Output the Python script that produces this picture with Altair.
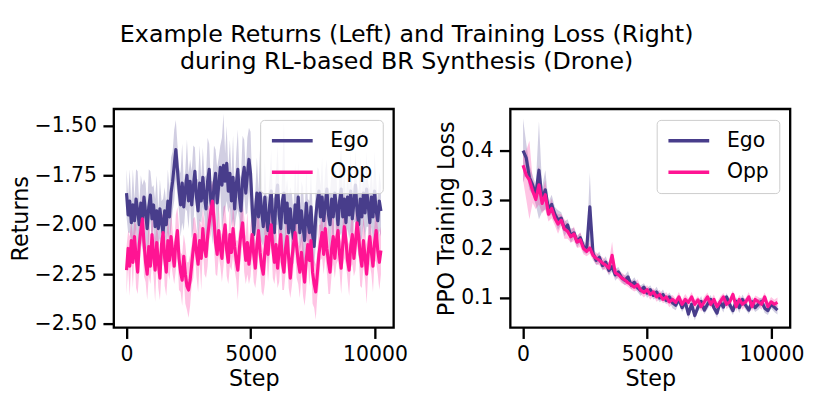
import altair as alt
import pandas as pd

# ---------------- data ----------------
series_names = ["Ego", "Opp"]
series_colors = ["#483D8B", "#FF1493"]

# Left panel: returns, every 64 steps (mean line and half-width of band)
ret_steps = [i * 64 for i in range(161)]
ego_ret_mean = [
    -1.84, -1.95, -1.88, -1.99, -1.90, -1.98, -1.87, -1.93, -2.00, -1.89,
    -1.97, -1.86, -1.94, -2.02, -1.91, -1.85, -1.97, -1.90, -2.01, -1.93,
    -2.02, -1.92, -1.99, -2.04, -1.93, -2.00, -1.88, -1.96, -1.84, -1.78,
    -1.70, -1.62, -1.72, -1.82, -1.90, -1.79, -1.91, -1.82, -1.75, -1.88,
    -1.78, -1.90, -1.81, -1.73, -1.86, -1.93, -1.79, -1.88, -1.76, -1.86,
    -1.92, -1.78, -1.72, -1.88, -1.94, -1.80, -1.74, -1.89, -1.80, -1.71,
    -1.80, -1.70, -1.78, -1.69, -1.83, -1.74, -1.88, -1.76, -1.92, -1.80,
    -1.72, -1.86, -1.93, -1.77, -1.71, -1.84, -1.75, -1.67, -1.74, -1.90,
    -2.05, -1.94, -1.84, -1.96, -1.84, -1.93, -2.01, -1.86, -1.97, -2.03,
    -1.90, -1.83, -1.98, -2.04, -1.87, -1.80, -1.95, -2.02, -1.88, -1.84,
    -1.99, -1.89, -2.04, -1.92, -2.01, -2.07, -1.90, -1.99, -1.86, -2.04,
    -1.93, -2.01, -2.08, -1.89, -1.98, -2.04, -1.91, -2.05, -2.11, -1.96,
    -1.88, -1.83, -1.96, -1.86, -1.98, -1.90, -1.82, -1.95, -2.00, -1.87,
    -1.96, -1.84, -1.91, -2.00, -1.88, -1.82, -1.96, -1.87, -1.99, -1.86,
    -1.95, -1.83, -1.97, -1.89, -1.80, -1.93, -2.00, -1.87, -1.96, -1.84,
    -1.94, -1.82, -1.90, -1.99, -1.86, -1.96, -1.83, -1.93, -1.98, -1.88,
    -1.93,
]
ego_ret_half = [
    0.12, 0.09, 0.16, 0.10, 0.18, 0.11, 0.15, 0.20, 0.10, 0.14,
    0.17, 0.09, 0.15, 0.11, 0.19, 0.12, 0.16, 0.10, 0.14, 0.18,
    0.09, 0.15, 0.11, 0.17, 0.12, 0.10, 0.16, 0.13, 0.18, 0.15,
    0.18, 0.15, 0.13, 0.11, 0.16, 0.20, 0.12, 0.10, 0.18, 0.14,
    0.11, 0.17, 0.21, 0.12, 0.09, 0.16, 0.19, 0.11, 0.15, 0.10,
    0.17, 0.22, 0.13, 0.10, 0.16, 0.20, 0.12, 0.18, 0.14, 0.11,
    0.24, 0.26, 0.14, 0.19, 0.11, 0.17, 0.13, 0.21, 0.10, 0.16,
    0.20, 0.12, 0.17, 0.22, 0.14, 0.11, 0.19, 0.16, 0.21, 0.12,
    0.14, 0.11, 0.18, 0.13, 0.23, 0.16, 0.10, 0.19, 0.12, 0.17,
    0.14, 0.21, 0.11, 0.18, 0.13, 0.20, 0.16, 0.10, 0.17, 0.36,
    0.16, 0.12, 0.19, 0.11, 0.17, 0.13, 0.21, 0.14, 0.18, 0.10,
    0.15, 0.20, 0.12, 0.17, 0.11, 0.16, 0.19, 0.13, 0.10, 0.15,
    0.17, 0.11, 0.16, 0.20, 0.12, 0.18, 0.15, 0.10, 0.17, 0.13,
    0.19, 0.12, 0.16, 0.10, 0.18, 0.22, 0.13, 0.17, 0.11, 0.16,
    0.12, 0.20, 0.15, 0.10, 0.18, 0.13, 0.17, 0.21, 0.11, 0.16,
    0.13, 0.19, 0.11, 0.17, 0.15, 0.12, 0.20, 0.16, 0.10, 0.15,
    0.13,
]
opp_ret_mean = [
    -2.23, -2.12, -2.21, -2.08, -2.19, -2.06, -2.16, -2.24, -2.10, -2.03,
    -1.97, -2.09, -2.19, -2.25, -2.11, -2.21, -2.05, -2.15, -2.23, -2.09,
    -2.19, -2.27, -2.10, -2.04, -2.17, -2.24, -2.08, -2.18, -2.06, -2.14,
    -2.21, -2.09, -2.03, -2.17, -2.24, -2.28, -2.16, -2.25, -2.31, -2.33,
    -2.28, -2.20, -2.12, -2.05, -2.14, -2.20, -2.08, -2.17, -2.02, -2.12,
    -2.16, -2.06, -1.99, -1.93, -1.88, -1.97, -2.09, -2.15, -2.03, -2.12,
    -2.17, -2.06, -2.00, -2.13, -2.19, -2.05, -2.14, -2.02, -2.11, -2.18,
    -2.23, -2.12, -2.04, -1.99, -2.10, -2.18, -2.09, -2.20, -2.13, -2.05,
    -2.15, -2.22, -2.10, -2.03, -2.14, -2.21, -2.25, -2.14, -2.06, -2.15,
    -2.05, -2.00, -2.12, -2.19, -2.10, -2.22, -2.13, -2.05, -2.19, -2.24,
    -2.12, -2.06, -2.17, -2.27, -2.17, -2.10, -2.04, -2.11, -2.19, -2.24,
    -2.14, -2.22, -2.29, -2.18, -2.10, -2.18, -2.08, -2.24, -2.30, -2.34,
    -2.25, -2.15, -2.09, -2.04, -2.15, -2.02, -2.12, -2.19, -2.24, -2.12,
    -2.06, -2.17, -2.08, -2.03, -2.15, -2.22, -2.10, -2.01, -2.08, -2.18,
    -2.23, -2.11, -2.05, -2.17, -2.09, -1.99, -2.06, -2.15, -2.21, -2.08,
    -2.16, -2.25, -2.14, -2.06, -2.14, -2.21, -2.09, -2.03, -2.13, -2.19,
    -2.13,
]
opp_ret_half = [
    0.12, 0.09, 0.15, 0.10, 0.13, 0.08, 0.16, 0.11, 0.14, 0.09,
    0.12, 0.17, 0.10, 0.13, 0.15, 0.09, 0.14, 0.11, 0.16, 0.10,
    0.13, 0.11, 0.15, 0.09, 0.14, 0.12, 0.16, 0.10, 0.13, 0.11,
    0.09, 0.14, 0.12, 0.16, 0.10, 0.13, 0.11, 0.15, 0.12, 0.14,
    0.13, 0.10, 0.15, 0.09, 0.12, 0.14, 0.11, 0.16, 0.10, 0.13,
    0.11, 0.15, 0.09, 0.12, 0.10, 0.14, 0.16, 0.11, 0.13, 0.09,
    0.12, 0.15, 0.10, 0.13, 0.11, 0.16, 0.09, 0.14, 0.12, 0.10,
    0.15, 0.11, 0.13, 0.09, 0.14, 0.12, 0.16, 0.10, 0.13, 0.11,
    0.14, 0.10, 0.15, 0.12, 0.09, 0.13, 0.11, 0.16, 0.10, 0.14,
    0.12, 0.09, 0.15, 0.11, 0.13, 0.10, 0.16, 0.12, 0.14, 0.09,
    0.13, 0.11, 0.15, 0.10, 0.14, 0.12, 0.09, 0.16, 0.11, 0.13,
    0.10, 0.14, 0.12, 0.15, 0.09, 0.13, 0.11, 0.16, 0.12, 0.14,
    0.11, 0.15, 0.09, 0.13, 0.10, 0.14, 0.12, 0.16, 0.11, 0.13,
    0.14, 0.10, 0.12, 0.15, 0.09, 0.13, 0.11, 0.16, 0.12, 0.10,
    0.13, 0.11, 0.15, 0.09, 0.14, 0.12, 0.10, 0.16, 0.11, 0.13,
    0.12, 0.15, 0.10, 0.14, 0.11, 0.13, 0.09, 0.16, 0.12, 0.14,
    0.12,
]

# Right panel: PPO training loss, every 128 steps
loss_steps = [i * 128 for i in range(81)]
ego_loss_mean = [
    0.400, 0.385, 0.345, 0.330, 0.310, 0.360, 0.300, 0.320, 0.280, 0.290,
    0.270, 0.258, 0.262, 0.240, 0.248, 0.226, 0.232, 0.214, 0.222, 0.204,
    0.198, 0.285, 0.190, 0.176, 0.182, 0.165, 0.172, 0.155, 0.163, 0.146,
    0.152, 0.140, 0.135, 0.142, 0.125, 0.131, 0.120, 0.114, 0.121, 0.109,
    0.116, 0.104, 0.111, 0.099, 0.106, 0.094, 0.101, 0.089, 0.084, 0.096,
    0.079, 0.091, 0.066, 0.086, 0.063, 0.080, 0.092, 0.074, 0.086, 0.096,
    0.079, 0.068, 0.091, 0.080, 0.101, 0.085, 0.073, 0.092, 0.079, 0.096,
    0.084, 0.074, 0.091, 0.079, 0.086, 0.092, 0.078, 0.073, 0.086, 0.080, 0.074,
]
ego_loss_half = [
    0.065, 0.030, 0.025, 0.020, 0.020, 0.100, 0.025, 0.040, 0.015, 0.020,
    0.015, 0.020, 0.012, 0.015, 0.012, 0.015, 0.010, 0.012, 0.010, 0.012,
    0.010, 0.070, 0.012, 0.010, 0.012, 0.010, 0.012, 0.010, 0.010, 0.012,
    0.010, 0.008, 0.010, 0.012, 0.008, 0.010, 0.009, 0.011, 0.008, 0.010,
    0.009, 0.008, 0.011, 0.009, 0.010, 0.008, 0.009, 0.011, 0.010, 0.008,
    0.009, 0.010, 0.011, 0.008, 0.010, 0.009, 0.011, 0.008, 0.010, 0.009,
    0.008, 0.010, 0.009, 0.011, 0.008, 0.010, 0.009, 0.008, 0.011, 0.010,
    0.009, 0.008, 0.010, 0.009, 0.011, 0.008, 0.010, 0.009, 0.008, 0.010, 0.009,
]
opp_loss_mean = [
    0.370, 0.350, 0.340, 0.318, 0.300, 0.330, 0.292, 0.310, 0.270, 0.282,
    0.262, 0.250, 0.258, 0.240, 0.235, 0.224, 0.230, 0.213, 0.218, 0.200,
    0.194, 0.201, 0.186, 0.180, 0.176, 0.170, 0.166, 0.160, 0.186, 0.150,
    0.146, 0.140, 0.136, 0.130, 0.126, 0.121, 0.126, 0.115, 0.110, 0.116,
    0.106, 0.111, 0.101, 0.106, 0.096, 0.101, 0.091, 0.096, 0.090, 0.101,
    0.086, 0.096, 0.090, 0.101, 0.086, 0.095, 0.081, 0.091, 0.101, 0.086,
    0.096, 0.081, 0.091, 0.101, 0.086, 0.091, 0.106, 0.081, 0.096, 0.086,
    0.091, 0.101, 0.081, 0.096, 0.091, 0.086, 0.101, 0.081, 0.091, 0.086, 0.090,
]
opp_loss_half = [
    0.030, 0.050, 0.080, 0.025, 0.020, 0.040, 0.020, 0.030, 0.015, 0.020,
    0.015, 0.020, 0.012, 0.020, 0.015, 0.012, 0.015, 0.012, 0.015, 0.012,
    0.010, 0.012, 0.010, 0.012, 0.010, 0.012, 0.010, 0.012, 0.028, 0.010,
    0.009, 0.011, 0.010, 0.008, 0.010, 0.009, 0.011, 0.008, 0.010, 0.009,
    0.011, 0.008, 0.010, 0.009, 0.008, 0.010, 0.011, 0.009, 0.008, 0.010,
    0.009, 0.011, 0.008, 0.010, 0.009, 0.008, 0.010, 0.011, 0.009, 0.008,
    0.010, 0.009, 0.011, 0.008, 0.010, 0.009, 0.008, 0.010, 0.009, 0.011,
    0.008, 0.010, 0.009, 0.008, 0.010, 0.011, 0.009, 0.008, 0.010, 0.009, 0.010,
]

x_ticks = [0, 5000, 10000]
ret_ticks = [-2.5, -2.25, -2.0, -1.75, -1.5]
loss_ticks = [0.1, 0.2, 0.3, 0.4]
title_lines = ["Example Returns (Left) and Training Loss (Right)",
               "during RL-based BR Synthesis (Drone)"]


# ---------------- build tables ----------------
def make_table(steps, pairs):
    rows = []
    for name, (mean, half) in zip(series_names, pairs):
        for s, m, h in zip(steps, mean, half):
            rows.append({"step": s, "series": name, "mean": m,
                         "lo": m - h, "hi": m + h})
    return pd.DataFrame(rows)


ret_df = make_table(ret_steps, [(ego_ret_mean, ego_ret_half),
                                (opp_ret_mean, opp_ret_half)])
loss_df = make_table(loss_steps, [(ego_loss_mean, ego_loss_half),
                                  (opp_loss_mean, opp_loss_half)])

FONT = "DejaVu Sans"
color_scale = alt.Scale(domain=series_names, range=series_colors)
x_scale = alt.Scale(domain=[-512, 10752], nice=False, zero=False)


def panel(df, ydom, yticks, yfmt, ytitle):
    base = alt.Chart(df).encode(
        x=alt.X("step:Q", scale=x_scale,
                axis=alt.Axis(values=x_ticks, format="d", title="Step"))
    )
    yscale = alt.Scale(domain=ydom, nice=False, zero=False)
    layers = []
    for name, col in zip(series_names, series_colors):
        layers.append(
            base.transform_filter(alt.datum.series == name)
            .mark_area(opacity=0.25, color=col)
            .encode(
                y=alt.Y("lo:Q", scale=yscale,
                        axis=alt.Axis(values=yticks, format=yfmt, title=ytitle)),
                y2="hi:Q",
            )
        )
    line = base.mark_line(strokeWidth=3.2, strokeJoin="round").encode(
        y=alt.Y("mean:Q", scale=yscale),
        stroke=alt.Stroke(
            "series:N", scale=color_scale,
            legend=alt.Legend(
                title=None, orient="top-right", offset=11, padding=10,
                fillColor="rgba(255,255,255,0.8)", strokeColor="#cccccc",
                cornerRadius=4, symbolType="stroke", symbolSize=1700,
                symbolStrokeWidth=3.5, labelFontSize=20.6, labelFont=FONT,
                labelColor="black", labelOffset=16, rowPadding=10,
                clipHeight=22,
            ),
        ),
    )
    layers.append(line)
    return alt.layer(*layers).properties(width=283, height=221)


left = panel(ret_df, [-2.52, -1.415], ret_ticks, ".2f", "Returns")
right = panel(loss_df, [0.0384, 0.485], loss_ticks, ".1f", "PPO Training Loss")

chart = (
    alt.hconcat(left, right, spacing=25)
    .resolve_scale(stroke="independent")
    .resolve_legend(stroke="independent")
    .properties(
        title=alt.TitleParams(title_lines, anchor="middle", fontSize=24,
                              font=FONT, fontWeight="normal", color="black",
                              lineHeight=28, offset=34),
        padding={"left": 0, "top": 12, "right": 0, "bottom": 0},
        background="white",
    )
    .configure_view(stroke="black", strokeWidth=2.34)
    .configure_axis(
        domain=False, grid=False, tickSize=11, tickWidth=2.34,
        tickColor="black", labelFontSize=20.6, labelFont=FONT,
        labelColor="black", labelPadding=6.5, titleFont=FONT,
        titleFontSize=22.5, titleFontWeight="normal", titleColor="black",
        titlePadding=2,
    )
)

chart.save("out.html", embed_options={"renderer": "svg", "actions": False})
